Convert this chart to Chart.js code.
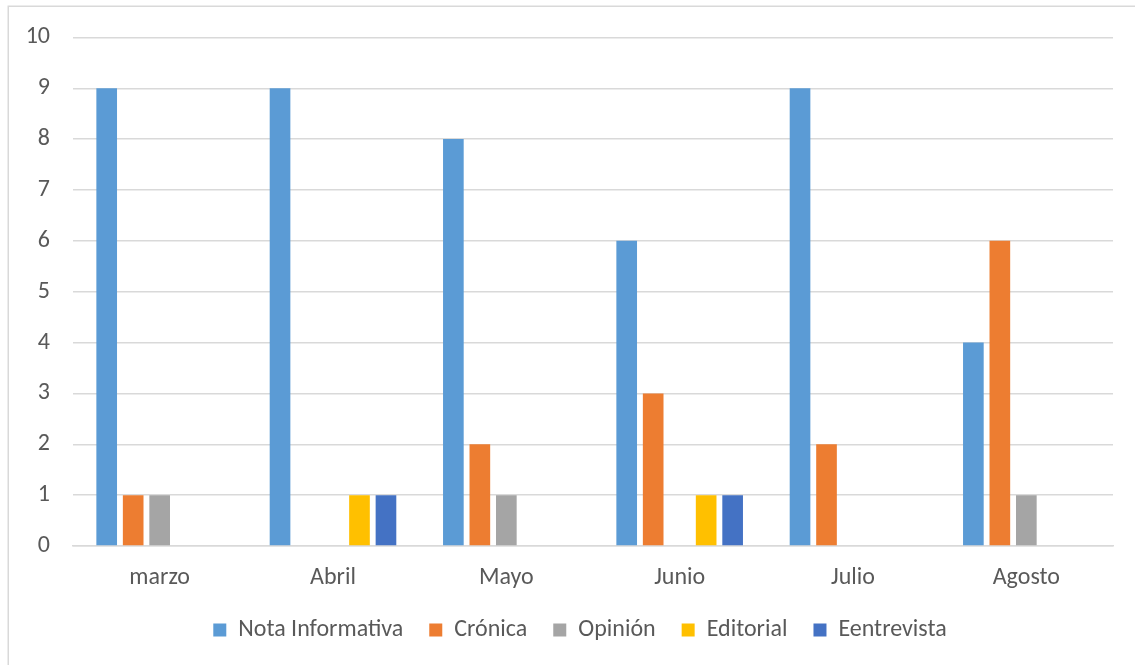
<!DOCTYPE html>
<html>
<head>
<meta charset="utf-8">
<script src="https://cdn.jsdelivr.net/npm/chart.js@4"></script>
<style>
  html, body { margin: 0; padding: 0; background: #ffffff; }
  #wrap { width: 1135px; height: 665px; position: relative; }
</style>
</head>
<body>
<div id="wrap"><canvas id="chart" width="1135" height="665"></canvas></div>
<script>
// Monthly count of published pieces by genre
const categories = ['marzo', 'Abril', 'Mayo', 'Junio', 'Julio', 'Agosto'];
const notaInformativa = [9, 9, 8, 6, 9, 4];
const cronica         = [1, 0, 2, 3, 2, 6];
const opinion         = [1, 0, 1, 0, 0, 1];
const editorial       = [0, 1, 0, 1, 0, 0];
const entrevista      = [0, 1, 0, 1, 0, 0];
const yTicks = [0, 1, 2, 3, 4, 5, 6, 7, 8, 9, 10];

const FONT = 'Carlito, Calibri, Lato, "Open Sans", sans-serif';
const TEXT = '#595959';
const GRID = '#D9D9D9';

// thin frame around the whole chart
const frame = {
  id: 'frame',
  beforeDraw(chart) {
    const ctx = chart.ctx;
    ctx.save();
    ctx.fillStyle = '#ffffff';
    ctx.fillRect(0, 0, chart.width, chart.height);
    ctx.strokeStyle = GRID;
    ctx.lineWidth = 1.5;
    ctx.strokeRect(8.25, 6.25, chart.width + 20, chart.height + 20);
    ctx.restore();
  }
};

// centre the legend under the plot area rather than the whole canvas
const legendShift = {
  id: 'legendShift',
  afterLayout(chart) {
    const lg = chart.legend;
    if (!lg) return;
    const a = chart.chartArea;
    const dx = (a.left + a.right) / 2 - (lg.left + lg.right) / 2 - 13;
    lg.left += dx;
    lg.right += dx;
  }
};

const mk = (label, data, color) => ({
  label, data, backgroundColor: color, borderWidth: 0,
  barPercentage: 0.78, categoryPercentage: 0.764
});

new Chart(document.getElementById('chart'), {
  type: 'bar',
  data: {
    labels: categories,
    datasets: [
      mk('Nota Informativa', notaInformativa, '#5B9BD5'),
      mk('Crónica', cronica, '#ED7D31'),
      mk('Opinión', opinion, '#A5A5A5'),
      mk('Editorial', editorial, '#FFC000'),
      mk('Eentrevista', entrevista, '#4472C4')
    ]
  },
  options: {
    responsive: false,
    animation: false,
    layout: { padding: { left: 0, right: 22, top: 35, bottom: 13 } },
    plugins: {
      tooltip: { enabled: false },
      legend: {
        position: 'bottom',
        labels: {
          boxWidth: 13, boxHeight: 13, padding: 26,
          color: TEXT, font: { family: FONT, size: 24 }
        }
      }
    },
    scales: {
      x: {
        grid: { display: false, drawTicks: false },
        border: { display: true, color: GRID, width: 1.5 },
        ticks: { color: TEXT, font: { family: FONT, size: 24 }, padding: 18 },
        afterFit(s) { s.height = 46; }
      },
      y: {
        min: 0, max: 10,
        afterBuildTicks(s) { s.ticks = yTicks.map(v => ({ value: v })); },
        grid: { color: GRID, lineWidth: 1.5, drawTicks: false },
        border: { display: false },
        ticks: { color: TEXT, font: { family: FONT, size: 24 }, padding: 23 },
        afterFit(s) { s.width = 73; }
      }
    }
  },
  plugins: [frame, legendShift]
});
</script>
</body>
</html>
